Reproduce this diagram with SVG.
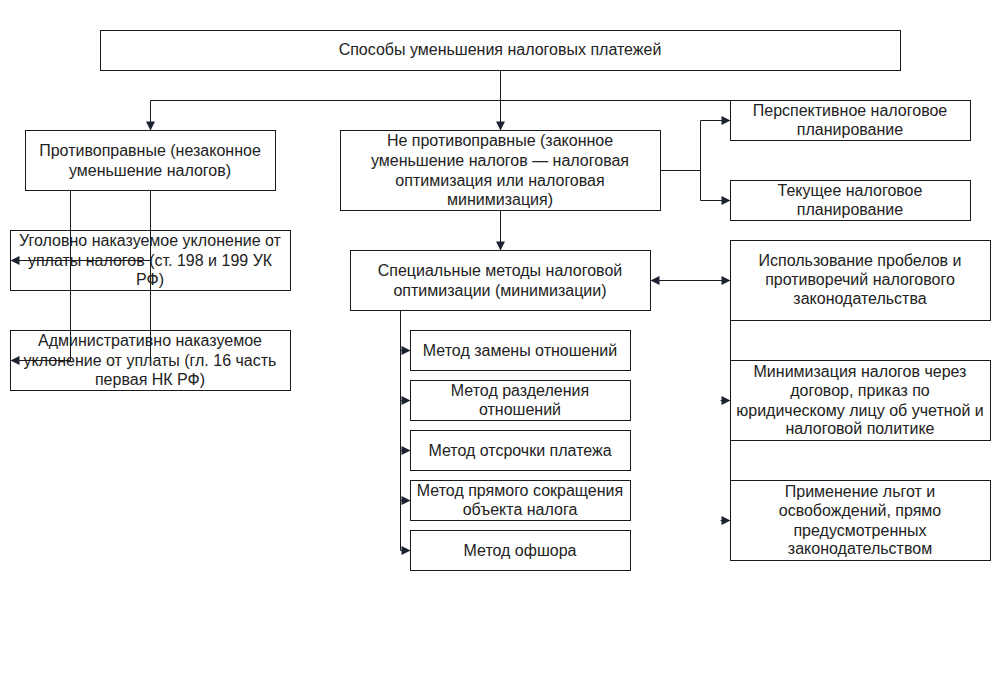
<svg xmlns="http://www.w3.org/2000/svg" width="1000" height="700" viewBox="0 0 1000 700">
<style>
.box{fill:#fff;stroke:#1a1a1a;stroke-width:1}
.t{font-family:"Liberation Sans",Arial,sans-serif;font-size:16px;fill:#222;text-anchor:middle}
.c{fill:none;stroke:#1a1a1a;stroke-width:1}
</style>
<defs>
<marker id="ar" markerUnits="userSpaceOnUse" markerWidth="12" markerHeight="12" refX="10" refY="6" orient="auto">
<path d="M1,1.5 L10,6 L1,10.5 z" fill="#1c2230"/>
</marker>
<marker id="as" markerUnits="userSpaceOnUse" markerWidth="12" markerHeight="12" refX="2" refY="6" orient="auto">
<path d="M11,1.5 L2,6 L11,10.5 z" fill="#1c2230"/>
</marker>
</defs>
<rect width="1000" height="700" fill="#fff"/>

<g id="n-root"><rect class="box" x="100.5" y="30.5" width="800" height="40"/>
<text class="t" x="500" y="55">Способы уменьшения налоговых платежей</text></g>

<g id="n-illegal"><rect class="box" x="25.5" y="130.5" width="250" height="60"/>
<text class="t" x="150" y="155.5">Противоправные (незаконное</text>
<text class="t" x="150" y="175.5">уменьшение налогов)</text></g>

<g id="n-legal"><rect class="box" x="340.5" y="130.5" width="320" height="80"/>
<text class="t" x="500" y="145.5">Не противоправные (законное</text>
<text class="t" x="500" y="165.5">уменьшение налогов — налоговая</text>
<text class="t" x="500" y="185.5">оптимизация или налоговая</text>
<text class="t" x="500" y="204.5">минимизация)</text></g>

<g id="n-persp"><rect class="box" x="730.5" y="100.5" width="240" height="40"/>
<text class="t" x="850" y="115.5">Перспективное налоговое</text>
<text class="t" x="850" y="134.5">планирование</text></g>

<g id="n-current"><rect class="box" x="730.5" y="180.5" width="240" height="40"/>
<text class="t" x="850" y="195.5">Текущее налоговое</text>
<text class="t" x="850" y="214.5">планирование</text></g>

<g id="n-criminal"><rect class="box" x="10.5" y="230.5" width="280" height="60"/>
<text class="t" x="150" y="245.5">Уголовно наказуемое уклонение от</text>
<text class="t" x="150" y="265.5">уплаты налогов (ст. 198 и 199 УК</text>
<text class="t" x="150" y="284.5">РФ)</text></g>

<g id="n-admin"><rect class="box" x="10.5" y="330.5" width="280" height="60"/>
<text class="t" x="150" y="345.5">Административно наказуемое</text>
<text class="t" x="150" y="365.5">уклонение от уплаты (гл. 16 часть</text>
<text class="t" x="150" y="384.5">первая НК РФ)</text></g>

<g id="n-special"><rect class="box" x="350.5" y="250.5" width="300" height="60"/>
<text class="t" x="500" y="275.5">Специальные методы налоговой</text>
<text class="t" x="500" y="295.5">оптимизации (минимизации)</text></g>

<g id="n-gaps"><rect class="box" x="730.5" y="240.5" width="260" height="80"/>
<text class="t" x="860" y="265.5">Использование пробелов и</text>
<text class="t" x="860" y="284.5">противоречий налогового</text>
<text class="t" x="860" y="303.5">законодательства</text></g>

<g id="n-contract"><rect class="box" x="730.5" y="360.5" width="260" height="80"/>
<text class="t" x="860" y="376.5">Минимизация налогов через</text>
<text class="t" x="860" y="395.5">договор, приказ по</text>
<text class="t" x="860" y="415.5">юридическому лицу об учетной и</text>
<text class="t" x="860" y="433.5">налоговой политике</text></g>

<g id="n-benefits"><rect class="box" x="730.5" y="480.5" width="260" height="80"/>
<text class="t" x="860" y="496.5">Применение льгот и</text>
<text class="t" x="860" y="515.5">освобождений, прямо</text>
<text class="t" x="860" y="535.5">предусмотренных</text>
<text class="t" x="860" y="553.5">законодательством</text></g>

<g id="n-m1"><rect class="box" x="410.5" y="330.5" width="220" height="40"/>
<text class="t" x="520" y="355.5">Метод замены отношений</text></g>
<g id="n-m2"><rect class="box" x="410.5" y="380.5" width="220" height="40"/>
<text class="t" x="520" y="395.5">Метод разделения</text>
<text class="t" x="520" y="414.5">отношений</text></g>
<g id="n-m3"><rect class="box" x="410.5" y="430.5" width="220" height="40"/>
<text class="t" x="520" y="455.5">Метод отсрочки платежа</text></g>
<g id="n-m4"><rect class="box" x="410.5" y="480.5" width="220" height="40"/>
<text class="t" x="520" y="495.5">Метод прямого сокращения</text>
<text class="t" x="520" y="514.5">объекта налога</text></g>
<g id="n-m5"><rect class="box" x="410.5" y="530.5" width="220" height="40"/>
<text class="t" x="520" y="555.5">Метод офшора</text></g>

<g id="connectors">
<path class="c" d="M500.5,70.5 V100.5"/>
<path class="c" d="M150.5,100.5 H730.5"/>
<path class="c" d="M150.5,100.5 V130.5" marker-end="url(#ar)"/>
<path class="c" d="M500.5,100.5 V130.5" marker-end="url(#ar)"/>
<path class="c" d="M660.5,170.5 H700.5"/>
<path class="c" d="M700.5,170.5 V120.5 H730.5" marker-end="url(#ar)"/>
<path class="c" d="M700.5,170.5 V200.5 H730.5" marker-end="url(#ar)"/>
<path class="c" d="M500.5,210.5 V250.5" marker-end="url(#ar)"/>
<path class="c" d="M650.5,280.5 H730.5" marker-start="url(#as)" marker-end="url(#ar)"/>
<path class="c" d="M730.5,320.5 V360.5 M730.5,440.5 V480.5"/>
<path class="c" d="M720.5,400.5 H730.5" marker-end="url(#ar)"/>
<path class="c" d="M720.5,520.5 H730.5" marker-end="url(#ar)"/>
<path class="c" d="M400.5,310.5 V550.5"/>
<path class="c" d="M400.5,350.5 H410.5" marker-end="url(#ar)"/>
<path class="c" d="M400.5,400.5 H410.5" marker-end="url(#ar)"/>
<path class="c" d="M400.5,450.5 H410.5" marker-end="url(#ar)"/>
<path class="c" d="M400.5,500.5 H410.5" marker-end="url(#ar)"/>
<path class="c" d="M400.5,550.5 H410.5" marker-end="url(#ar)"/>
<path class="c" d="M70.5,190.5 V360.5"/>
<path class="c" d="M150.5,190.5 V360.5"/>
<path class="c" d="M150.5,260.5 H10.5" marker-end="url(#ar)"/>
<path class="c" d="M70.5,360.5 H10.5" marker-end="url(#ar)"/>
</g>
</svg>
